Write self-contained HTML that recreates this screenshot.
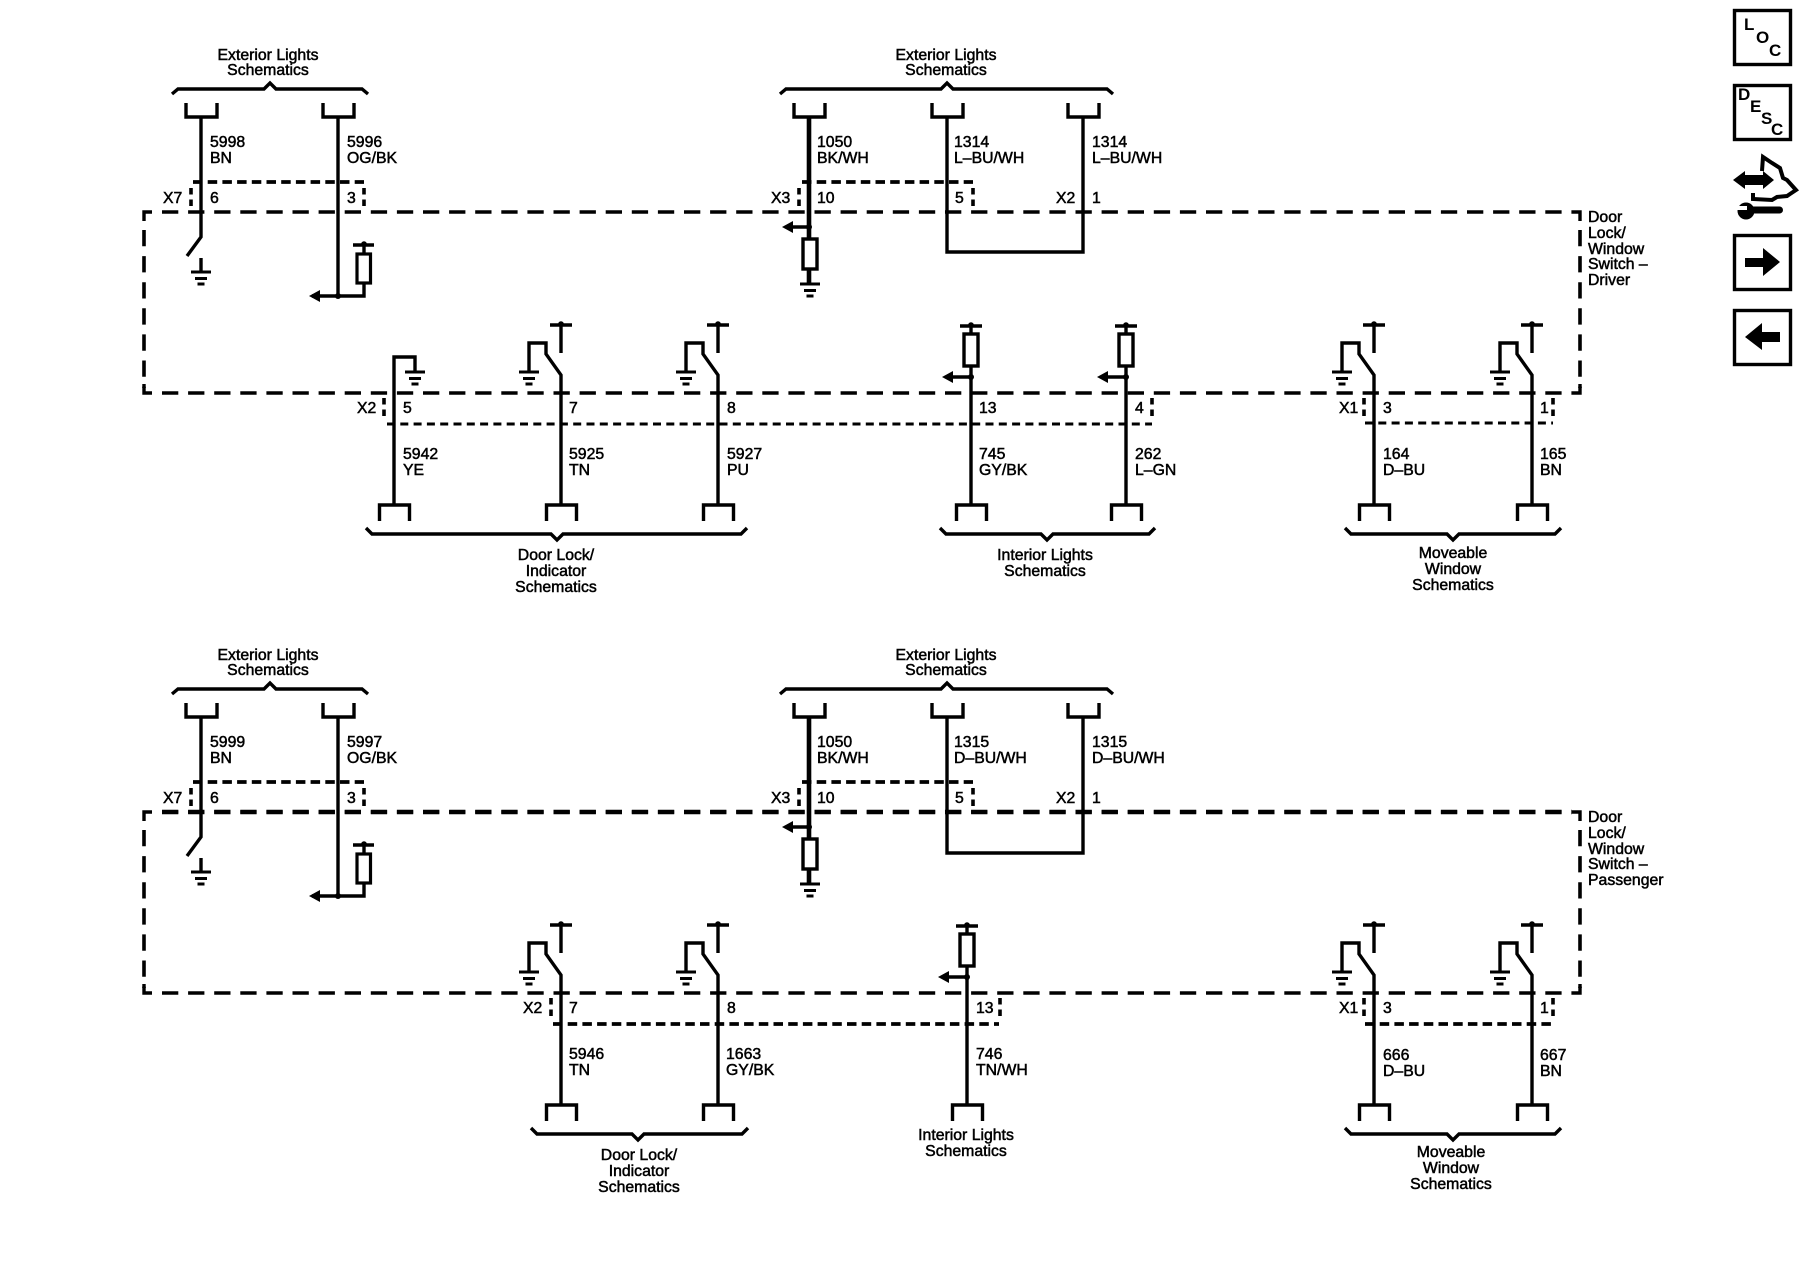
<!DOCTYPE html>
<html><head><meta charset="utf-8"><style>
html,body{margin:0;padding:0;background:#fff}
svg{display:block}
text{font-family:"Liberation Sans",Arial,sans-serif;font-size:15.8px;fill:#000;stroke:#000;stroke-width:.5}
.m{text-anchor:middle}
.i{font-weight:bold;font-size:17px;stroke:none}
.w{fill:none;stroke:#000;stroke-width:3.4;stroke-linecap:butt;stroke-linejoin:miter}
.g{fill:none;stroke:#000;stroke-width:3}
.b{fill:none;stroke:#000;stroke-width:3.6;stroke-dasharray:16.3 9.8}
.s{fill:none;stroke:#000;stroke-width:3.8;stroke-dasharray:9.5 5.2}
.t{fill:none;stroke:#000;stroke-width:3;stroke-dasharray:8 5.3}
.v{fill:none;stroke:#000;stroke-width:3.6;stroke-dasharray:6.500 5}
</style></head><body>
<svg width="1800" height="1280" viewBox="0 0 1800 1280" xmlns="http://www.w3.org/2000/svg">
<defs>
<g id="gnd"><path class="g" d="M-10,0H10M-6,6.5H6M-3.5,12H3.5"/></g>
<g id="cu"><path class="w" d="M-15,103V117H16V103"/></g>
<g id="cd"><path class="w" d="M-14.5,521V505H15.5V521"/></g>
<g id="sw">
<path class="w" d="M0,505V375L-15,354V343H-32V371M0,353V325M-11,325H11"/>
<circle cx="0" cy="324" r="2.8"/>
<use href="#gnd" x="-32" y="372"/>
<use href="#cd"/>
</g>
<g id="fm">
<path class="w" d="M0,505V366M0,326V334M-11,326H11M0,377H-20"/>
<circle cx="0" cy="325" r="2.800"/>
<rect x="-7" y="334" width="14" height="32" fill="#fff" stroke="#000" stroke-width="3.4"/>
<circle cx="0" cy="377" r="3"/>
<polygon points="-29,377 -18,371 -18,383"/>
<use href="#cd"/>
</g>
<g id="top">
<path class="w" d="M172,94L178,89H264L270,83L276,89H362L368,94"/>
<path class="w" d="M780,94L786,89H941L947,83L953,89H1107L1113,94"/>
<use href="#cu" x="201"/><use href="#cu" x="338"/><use href="#cu" x="809"/><use href="#cu" x="947"/><use href="#cu" x="1083"/>
<path class="w" d="M201,117V237L187,256"/>
<path class="w" d="M201,258V272"/><use href="#gnd" x="201" y="272"/>
<path class="w" d="M338,117V296M312,296H364V283M364,254V243M353,245H374"/>
<circle cx="364" cy="244" r="2.800"/>
<rect x="357" y="254" width="13.500" height="29" fill="#fff" stroke="#000" stroke-width="3.2"/>
<circle cx="338" cy="296" r="3"/>
<polygon points="309,296 320,290 320,302"/>
<path fill="none" stroke="#000" stroke-width="4.6" d="M809,117V239M809,269V284"/>
<rect x="803" y="239" width="14" height="30" fill="#fff" stroke="#000" stroke-width="3.4"/>
<path class="w" d="M809,227H790"/><circle cx="809" cy="227" r="3"/>
<polygon points="782,227 793,221 793,233"/>
<use href="#gnd" x="810" y="284"/>
<path class="s" d="M193,182H364M802,182H973"/>
<path class="v" d="M191,188V208M364,188V208M799,188V208M973,188V208"/>
<path class="b" d="M162,212H1572"/>
<path class="b" d="M162,393H1572"/>
<path class="b" d="M144,230V388"/>
<path class="b" d="M1580,230V388"/>
<path class="w" d="M144,221V212H152M1572,212H1580V221M144,384V393H152M1572,393H1580V384"/>
<use href="#sw" x="1374"/><use href="#sw" x="1532"/>
</g>
</defs>

<!-- Driver -->
<use href="#top"/>
<path class="w" d="M947,117V252H1083V117"/>
<path class="w" d="M394,505V357H415V371"/><use href="#gnd" x="415" y="372"/><use href="#cd" x="394"/>
<use href="#sw" x="561"/><use href="#sw" x="718"/>
<use href="#fm" x="971"/><use href="#fm" x="1126"/>
<path class="t" d="M387,424H1152M1365,423H1553"/>
<path class="v" d="M384,398V419M1152,398V419M1364,398V419M1553,398V419"/>
<path class="w" d="M366,528L372,534H551L557,540L563,534H741L747,528"/>
<path class="w" d="M940,528L946,534H1041L1047,540L1053,534H1149L1155,528"/>
<path class="w" d="M1345,528L1351,534H1447L1453,540L1459,534H1555L1561,528"/>

<text class="m" x="268" y="60">Exterior Lights</text><text class="m" x="268" y="75">Schematics</text>
<text class="m" x="946" y="60">Exterior Lights</text><text class="m" x="946" y="75">Schematics</text>
<text x="210" y="147">5998</text><text x="210" y="163">BN</text>
<text x="347" y="147">5996</text><text x="347" y="163">OG/BK</text>
<text x="817" y="147">1050</text><text x="817" y="163">BK/WH</text>
<text x="954" y="147">1314</text><text x="954" y="163">L–BU/WH</text>
<text x="1092" y="147">1314</text><text x="1092" y="163">L–BU/WH</text>
<text x="163" y="203">X7</text><text x="210" y="203">6</text><text x="347" y="203">3</text>
<text x="771" y="203">X3</text><text x="817" y="203">10</text><text x="955" y="203">5</text>
<text x="1056" y="203">X2</text><text x="1092" y="203">1</text>
<text x="1588" y="222">Door</text><text x="1588" y="238">Lock/</text><text x="1588" y="254">Window</text><text x="1588" y="269">Switch –</text><text x="1588" y="285">Driver</text>
<text x="357" y="413">X2</text><text x="403" y="413">5</text><text x="569" y="413">7</text><text x="727" y="413">8</text>
<text x="979" y="413">13</text><text x="1135" y="413">4</text>
<text x="1339" y="413">X1</text><text x="1383" y="413">3</text><text x="1540" y="413">1</text>
<text x="403" y="459">5942</text><text x="403" y="475">YE</text>
<text x="569" y="459">5925</text><text x="569" y="475">TN</text>
<text x="727" y="459">5927</text><text x="727" y="475">PU</text>
<text x="979" y="459">745</text><text x="979" y="475">GY/BK</text>
<text x="1135" y="459">262</text><text x="1135" y="475">L–GN</text>
<text x="1383" y="459">164</text><text x="1383" y="475">D–BU</text>
<text x="1540" y="459">165</text><text x="1540" y="475">BN</text>
<text class="m" x="556" y="560">Door Lock/</text><text class="m" x="556" y="576">Indicator</text><text class="m" x="556" y="592">Schematics</text>
<text class="m" x="1045" y="560">Interior Lights</text><text class="m" x="1045" y="576">Schematics</text>
<text class="m" x="1453" y="558">Moveable</text><text class="m" x="1453" y="574">Window</text><text class="m" x="1453" y="590">Schematics</text>

<!-- Passenger -->
<use href="#top" y="600"/>
<path class="w" d="M947,717V853H1083V717"/>
<path class="b" style="stroke-width:4.400" d="M162,812H1572"/>
<g transform="translate(0 600)">
<use href="#sw" x="561"/><use href="#sw" x="718"/><use href="#fm" x="967"/>
<path class="s" d="M553,424H999M1365,424H1553"/>
<path class="v" d="M551,398V419M1000,398V419M1364,398V419M1553,398V419"/>
<path class="w" d="M531,528L537,534H632L638,540L644,534H742L748,528"/>
<path class="w" d="M1345,528L1351,534H1447L1453,540L1459,534H1555L1561,528"/>
</g>
<text class="m" x="268" y="660">Exterior Lights</text><text class="m" x="268" y="675">Schematics</text>
<text class="m" x="946" y="660">Exterior Lights</text><text class="m" x="946" y="675">Schematics</text>
<text x="210" y="747">5999</text><text x="210" y="763">BN</text>
<text x="347" y="747">5997</text><text x="347" y="763">OG/BK</text>
<text x="817" y="747">1050</text><text x="817" y="763">BK/WH</text>
<text x="954" y="747">1315</text><text x="954" y="763">D–BU/WH</text>
<text x="1092" y="747">1315</text><text x="1092" y="763">D–BU/WH</text>
<text x="163" y="803">X7</text><text x="210" y="803">6</text><text x="347" y="803">3</text>
<text x="771" y="803">X3</text><text x="817" y="803">10</text><text x="955" y="803">5</text>
<text x="1056" y="803">X2</text><text x="1092" y="803">1</text>
<text x="1588" y="822">Door</text><text x="1588" y="838">Lock/</text><text x="1588" y="854">Window</text><text x="1588" y="869">Switch –</text><text x="1588" y="885">Passenger</text>
<text x="523" y="1013">X2</text><text x="569" y="1013">7</text><text x="727" y="1013">8</text><text x="976" y="1013">13</text>
<text x="1339" y="1013">X1</text><text x="1383" y="1013">3</text><text x="1540" y="1013">1</text>
<text x="569" y="1059">5946</text><text x="569" y="1075">TN</text>
<text x="726" y="1059">1663</text><text x="726" y="1075">GY/BK</text>
<text x="976" y="1059">746</text><text x="976" y="1075">TN/WH</text>
<text x="1383" y="1060">666</text><text x="1383" y="1076">D–BU</text>
<text x="1540" y="1060">667</text><text x="1540" y="1076">BN</text>
<text class="m" x="639" y="1160">Door Lock/</text><text class="m" x="639" y="1176">Indicator</text><text class="m" x="639" y="1192">Schematics</text>
<text class="m" x="966" y="1140">Interior Lights</text><text class="m" x="966" y="1156">Schematics</text>
<text class="m" x="1451" y="1157">Moveable</text><text class="m" x="1451" y="1173">Window</text><text class="m" x="1451" y="1189">Schematics</text>

<!-- Side icons -->
<rect x="1734.500" y="10.500" width="56" height="54" fill="none" stroke="#000" stroke-width="3.4"/>
<text class="i" x="1744" y="30">L</text><text class="i" x="1756" y="43">O</text><text class="i" x="1769" y="56">C</text>
<rect x="1734.500" y="85.500" width="56" height="54" fill="none" stroke="#000" stroke-width="3.4"/>
<text class="i" x="1738" y="100">D</text><text class="i" x="1750" y="112">E</text><text class="i" x="1761" y="124">S</text><text class="i" x="1771" y="135">C</text>
<polygon points="1733,180 1745,171 1745,175 1763,175 1763,171 1774,180 1763,189 1763,185 1745,185 1745,189"/>
<path fill="none" stroke="#000" stroke-width="4" d="M1762,171L1763,157L1772,163L1780,168L1783,178L1787,180L1796,190L1790,194L1787,196L1777,197L1772,200L1753,199V193"/>
<circle cx="1746" cy="211" r="8.500"/>
<rect x="1748" y="206.500" width="35" height="7" rx="3.500"/>
<rect x="1736" y="206" width="11" height="4" fill="#fff"/>
<rect x="1734.500" y="235.500" width="56" height="54" fill="none" stroke="#000" stroke-width="3.4"/>
<polygon points="1745,258 1763,258 1763,248 1780,262 1763,276 1763,267 1745,267"/>
<rect x="1734.500" y="310.500" width="56" height="54" fill="none" stroke="#000" stroke-width="3.4"/>
<polygon points="1780,332 1762,332 1762,323 1745,337 1762,350 1762,342 1780,342"/>
</svg>
</body></html>
